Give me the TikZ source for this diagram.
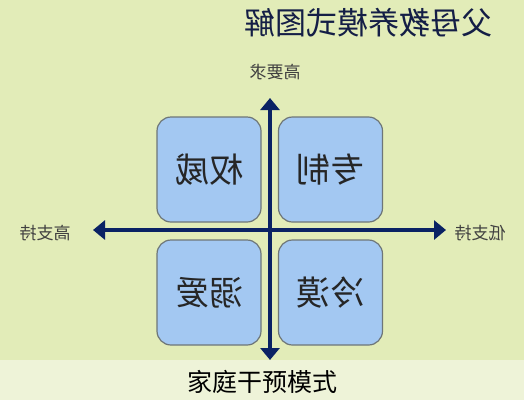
\documentclass[tikz,border=0pt]{standalone}
\usepackage{fontspec}
\newfontfamily\cjk{Noto Sans CJK SC}
\usetikzlibrary{arrows.meta}
\definecolor{bgtop}{RGB}{226,236,184}
\definecolor{bgbot}{RGB}{238,243,216}
\definecolor{axis}{RGB}{10,34,100}
\definecolor{boxfill}{RGB}{163,200,242}
\definecolor{boxline}{RGB}{110,118,120}
\definecolor{titlec}{RGB}{20,30,70}
\newcommand{\mir}[1]{\scalebox{-1}[1]{#1}}
\tikzset{
  quad/.style={draw=boxline, line width=1.2pt, fill=boxfill, rounded corners=14pt,
    minimum width=104pt, minimum height=105pt, inner sep=0pt,
    font=\cjk\fontsize{34}{34}\selectfont, text=black!85},
  axislabel/.style={font=\cjk\fontsize{17}{17}\selectfont, text=black!75, inner sep=0pt},
  axisline/.style={draw=axis, line width=4.5pt, -{Triangle[length=12pt,width=19pt]}}
}
\begin{document}
\begin{tikzpicture}[x=1pt,y=-1pt]
\useasboundingbox (0,0) rectangle (524,400);
\fill[bgtop] (0,0) rectangle (524,360);
\fill[bgbot] (0,360) rectangle (524,400);
% title
\node[font=\cjk\fontsize{31}{31}\selectfont, text=titlec, inner sep=0pt] (title) at (368,23) {\mir{父母教养模式图解}};
% boxes
\node[quad] (tl) at (209,169.5) {\mir{权威}};
\node[quad] (tr) at (330.5,169.5) {\mir{专制}};
\node[quad] (bl) at (209,292.5) {\mir{溺爱}};
\node[quad] (br) at (330.5,292.5) {\mir{冷漠}};
% axes
\coordinate (c) at (270,230);
\coordinate (top) at (270,98);
\coordinate (bot) at (270,360);
\coordinate (lft) at (93,230);
\coordinate (rgt) at (446,230);
\draw[axisline] (c) -- (top);
\draw[axisline] (c) -- (bot);
\draw[axisline] (c) -- (lft);
\draw[axisline] (c) -- (rgt);
% labels
\node[axislabel] (ltop) at (275,72) {\mir{高要求}};
\node[axislabel] (lleft) at (45,233) {\mir{高支持}};
\node[axislabel] (lright) at (480,233) {\mir{低支持}};
% caption
\node[font=\cjk\fontsize{25}{25}\selectfont, inner sep=0pt] (cap) at (262,382) {家庭干预模式};
\end{tikzpicture}
\end{document}
